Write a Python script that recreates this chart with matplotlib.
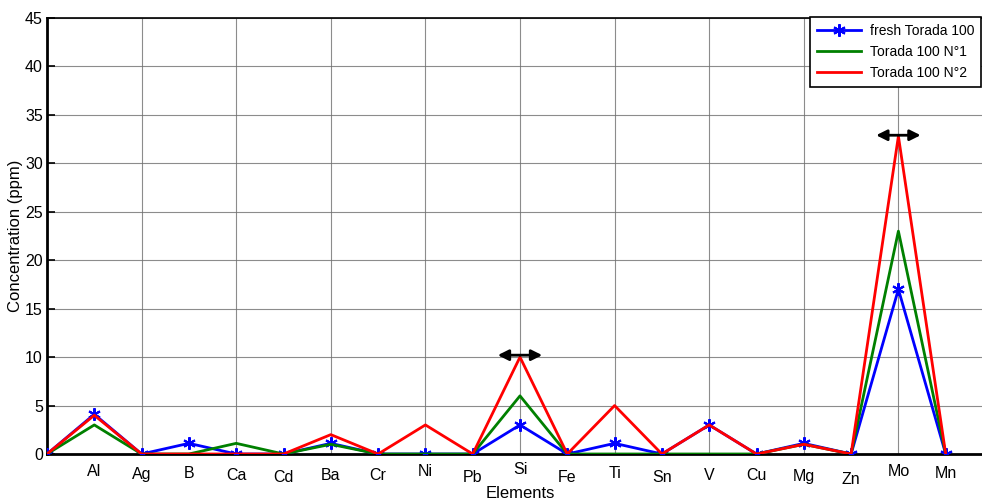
import matplotlib
matplotlib.use("Agg")
import matplotlib.pyplot as plt
from matplotlib.lines import Line2D

plt.rcParams['font.family'] = ['Liberation Sans', 'DejaVu Sans']

elements = ["", "Al", "Ag", "B", "Ca", "Cd", "Ba", "Cr", "Ni", "Pb", "Si",
            "Fe", "Ti", "Sn", "V", "Cu", "Mg", "Zn", "Mo", "Mn"]
fresh = [0, 4.1, 0, 1.1, 0, 0, 1.1, 0, 0, 0, 3, 0, 1.1, 0, 3, 0, 1.1, 0, 17, 0]
n1 = [0, 3, 0, 0, 1.1, 0, 1, 0, 0, 0, 6, 0, 0, 0, 0, 0, 1, 0, 23, 0]
n2 = [0, 4, 0, 0, 0, 0, 2, 0, 3, 0, 10, 0, 5, 0, 3, 0, 1, 0, 32.8, 0]
# vertical drop of each category label below the axis, in pixels
label_drop = [0, 18, 20, 19, 22, 23, 22, 22, 18, 23, 16, 23, 20, 24, 22, 22, 23, 25, 18, 19]
arrow_points = [(10, 10.2), (18, 32.9)]

W, H = 982, 504
fig = plt.figure(figsize=(W / 100, H / 100), dpi=100)
left, right, top, bottom = 47, 993, 18, 454
ax = fig.add_axes([left / W, 1 - bottom / H, (right - left) / W, (bottom - top) / H])

x = list(range(len(elements)))
ax.plot(x, fresh, color='#0000ff', lw=2, marker=(6, 2, 0), markersize=9,
        markeredgewidth=1.5, zorder=3)
ax.plot(x, n1, color='#008000', lw=2, zorder=4)
ax.plot(x, n2, color='#ff0000', lw=2, zorder=5)

ax.set_xlim(0, 20)
ax.set_ylim(0, 45)
ax.set_yticks(range(0, 46, 5))
ax.set_xticks(range(2, 20, 2))
ax.set_xticklabels([])
ax.tick_params(axis='x', length=0)
ax.tick_params(axis='y', direction='in', length=6, width=1.2, labelsize=11.5, pad=3)
ax.grid(True, color='#707070', lw=0.8, alpha=0.8)
ax.set_axisbelow(True)

ax.spines['right'].set_visible(False)
ax.spines['left'].set_linewidth(2)
ax.spines['bottom'].set_linewidth(2)
ax.spines['top'].set_linewidth(1.2)
ax.spines['bottom'].set_zorder(2)

ppu = (bottom - top) / 45.0
for i, (lab, d) in enumerate(zip(elements, label_drop)):
    if lab:
        ax.text(i, -d / ppu, lab, ha='center', va='center', fontsize=11.5,
                clip_on=False)

for xa, ya in arrow_points:
    ax.annotate('', xy=(xa - 0.47, ya), xytext=(xa + 0.47, ya),
                arrowprops=dict(arrowstyle='<|-|>', color='black', lw=2,
                                mutation_scale=16, shrinkA=0, shrinkB=0),
                zorder=6)

fig.text(16 / W, 1 - 236 / H, 'Concentration (ppm)', rotation=90,
         ha='center', va='center', fontsize=12)
fig.text(520 / W, 1 - 494 / H, 'Elements', ha='center', va='center', fontsize=12)

handles = [Line2D([], [], color='#0000ff', lw=2, marker=(6, 2, 0), markersize=9,
                  markeredgewidth=1.5),
           Line2D([], [], color='#008000', lw=2),
           Line2D([], [], color='#ff0000', lw=2)]
leg = ax.legend(handles, ['fresh Torada 100', 'Torada 100 N°1', 'Torada 100 N°2'],
                loc='upper right', bbox_to_anchor=(981 / W, 1 - 17 / H),
                bbox_transform=fig.transFigure, fontsize=10, frameon=True,
                fancybox=False, edgecolor='black', framealpha=1,
                handlelength=3.2, handletextpad=0.6, borderaxespad=0,
                labelspacing=0.5, borderpad=0.5)
leg.get_frame().set_linewidth(1.2)
leg.set_zorder(10)

fig.savefig('out.png', dpi=100)
